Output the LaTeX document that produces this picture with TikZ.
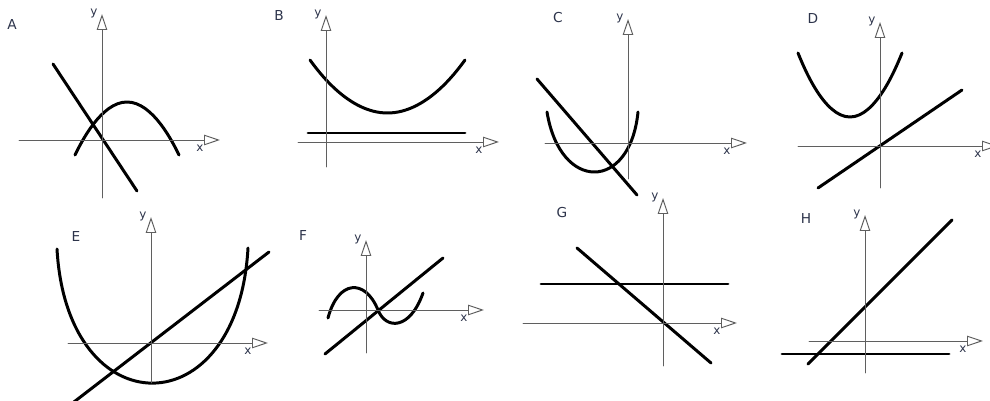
\documentclass[tikz,border=0pt]{standalone}
\usepackage{fontspec}
\setmainfont{DejaVu Sans}
\usepackage{xcolor}
\usetikzlibrary{arrows.meta,calc}

\definecolor{grigioasse}{RGB}{95,95,95}
\definecolor{testo}{RGB}{45,52,75}

\begin{document}
\begin{tikzpicture}[x=0.02cm, y=-0.02cm,
		line cap=round, line join=round,
		asse/.style={line width=0.55pt, draw=grigioasse,
				-{Triangle[open, length=0.32cm, width=0.21cm]}},
		curva/.style={line width=1.7pt},
		lbl/.style={font=\fontsize{7.8}{9}\selectfont, text=testo, inner sep=0pt},
		sub/.style={font=\fontsize{6.8}{8}\selectfont, text=testo, inner sep=0pt}]

	\useasboundingbox (0,0) rectangle (990,401);

	% ---- assi cartesiani ----
	% \assi{x origine}{y origine}{x sinistra}{x punta}{y punta}{y basso}{nome}
	\newcommand{\assi}[7]{%
		\draw[asse] (#3,#2) -- (#4,#2);
		\draw[asse] (#1,#6) -- (#1,#5);
		\node[sub] (y#7) at ($(#1,#5)+(-8,-1)$) {y};
		\node[sub] (x#7) at ($(#4,#2)+(-20,8)$) {x};}

	% ================= riga in alto =================
	% ---- A: retta decrescente e parabola verso il basso ----
	\node[lbl] (labA) at (12,25) {A};
	\draw[curva] (53,64) -- (137,191);
	\draw[curva] (75,155) parabola bend (127,102) (179,155);

	% ---- B: parabola sopra una retta orizzontale ----
	\node[lbl] (labB) at (279,16) {B};
	\draw[curva] (308,133) -- (465,133);
	\draw[curva] (310,60) parabola bend (387.5,113) (465,60);

	% ---- C ----
	\node[lbl] (labC) at (558,18) {C};
	\draw[curva] (537,79) -- (637,195);
	\draw[curva] (547,112) .. controls (560,192) and (630,192) .. (638,112);

	% ---- D ----
	\node[lbl] (labD) at (813,19) {D};
	\draw[curva] (818,188) -- (962,90);
	\draw[curva] (798,53) parabola bend (850,117) (902,53);

	% ================= riga in basso =================
	% ---- E ----
	\node[lbl] (labE) at (76,237) {E};
	\draw[curva] (57,249) .. controls (67,428) and (238,428) .. (248,248);
	\draw[curva] (70,405) -- (269,252);

	% ---- F: cubica e retta ----
	\node[lbl] (labF) at (303,236) {F};
	\draw[curva] (328,318) .. controls (338,280) and (365,278) .. (378,310)
		.. controls (386,330) and (410,330) .. (423,293);
	\draw[curva] (325,354) -- (443,258);

	% ---- G ----
	\node[lbl] (labG) at (562,213) {G};
	\draw[curva] (541,284) -- (728,284);
	\draw[curva] (577,248) -- (711,363);

	% ---- H ----
	\node[lbl] (labH) at (806,219) {H};
	\draw[curva] (782,354) -- (949,354);
	\draw[curva] (808,364) -- (952,220);

	% ---- tutti gli assi ----
	\assi{102}{140}{19}{220}{14}{198}{A}
	\assi{326}{142}{298}{499}{15}{167}{B}
	\assi{628}{143}{545}{747}{19}{179}{C}
	\assi{880}{146}{798}{998}{22}{188}{D}
	\assi{151}{343}{68}{268}{217}{383}{E}
	\assi{366}{310}{319}{484}{240}{353}{F}
	\assi{663}{323}{523}{737}{198}{366}{G}
	\assi{865}{341}{809}{983}{215}{373}{H}

\end{tikzpicture}
\end{document}
